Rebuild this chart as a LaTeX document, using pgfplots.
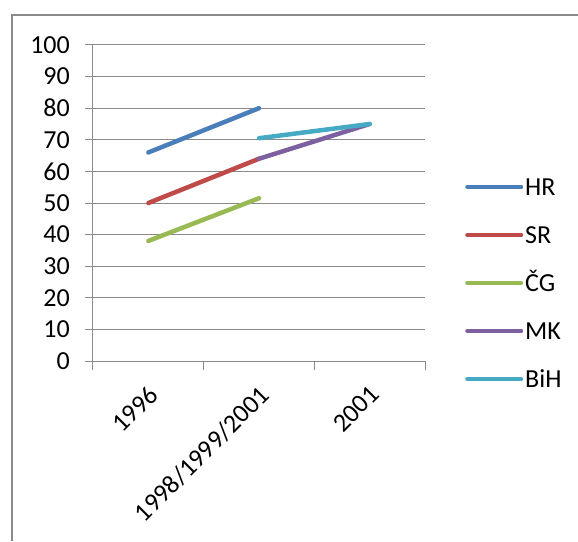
\documentclass[border=0pt]{standalone}
\usepackage{fontspec}
\setmainfont{Carlito}
\usepackage{pgfplots}
\pgfplotsset{compat=1.18}

\definecolor{hr}{HTML}{4A7EBB}
\definecolor{sr}{HTML}{BE4B48}
\definecolor{cg}{HTML}{98B954}
\definecolor{mk}{HTML}{7D60A0}
\definecolor{bih}{HTML}{46AAC5}
\definecolor{gridgray}{HTML}{8A8A8A}

\begin{document}
\begin{tikzpicture}
\path[use as bounding box] (0,0) rectangle (578pt,541pt);
% outer chart frame (top and left edge only)
\draw[gridgray, line width=2pt] (12pt,0pt) -- (12pt,526pt) -- (578pt,526pt);

\begin{axis}[
    at={(93pt,180pt)}, anchor=south west,
    scale only axis,
    width=332pt, height=316pt,
    xmin=-0.5, xmax=2.5,
    ymin=0, ymax=100,
    ytick distance=10,
    xtick={0,1,2},
    xticklabels={1996,1998/1999/2001,2001},
    minor xtick={-0.5,0.5,1.5,2.5},
    major tick length=8pt,
    minor tick length=9pt,
    major x tick style={draw=none},
    axis lines*=left,
    axis line style={gridgray, line width=1pt},
    ymajorgrids,
    grid style={gridgray, line width=1pt},
    every tick/.style={gridgray, line width=1pt},
    tick align=outside,
    y tick label style={font=\fontsize{26}{30}\selectfont, anchor=east, inner sep=0pt, xshift=-15pt},
    x tick label style={font=\fontsize{26}{30}\selectfont, xshift=-1pt, yshift=-15pt, rotate=45, anchor=north east, inner sep=0pt},
    /pgf/number format/assume math mode=true,
    clip=false,
    legend style={at={(462pt-93pt,541pt-283pt-180pt)}, anchor=west, draw=none, fill=none,
        font=\fontsize{26}{30}\selectfont,
        nodes={inner sep=0pt, text height=16pt, text depth=0pt},
        row sep=32pt, column sep=2pt},
    legend cell align=left,
    legend image code/.code={\draw[#1, line width=4pt] (0pt,0pt) -- (54pt,0pt);},
    every axis plot/.append style={line width=4.5pt, line cap=round},
]
\addplot[hr] coordinates {(0,66) (1,80)};
\addlegendentry{HR}
\addplot[sr] coordinates {(0,50) (1,64)};
\addlegendentry{SR}
\addplot[cg] coordinates {(0,38) (1,51.5)};
\addlegendentry{ČG}
\addplot[mk] coordinates {(1,64) (2,75)};
\addlegendentry{MK}
\addplot[bih] coordinates {(1,70.5) (2,75)};
\addlegendentry{BiH}
\end{axis}
\end{tikzpicture}
\end{document}
